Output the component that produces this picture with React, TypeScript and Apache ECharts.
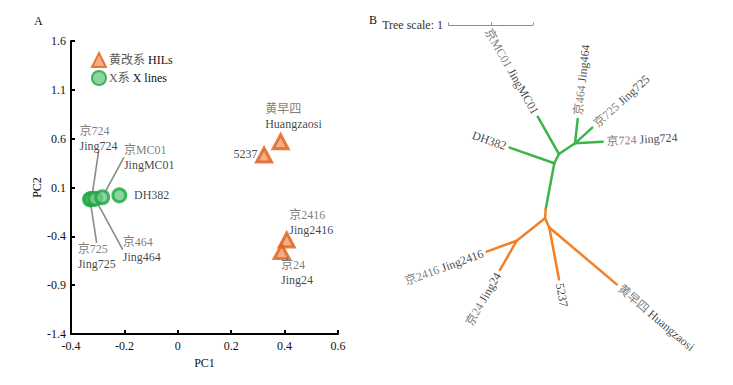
import React, { useEffect, useRef } from 'react';
import * as echarts from 'echarts';

// ---------- Panel A: PCA data ----------
const HIL_NAME = '黄改系 HILs';
const X_NAME = 'X系 X lines';
const HIL_CN = ['黄早四', '', '京2416', '京24'];
const HIL_EN = ['Huangzaosi', '5237', 'Jing2416', 'Jing24'];
const HIL_PC1 = [0.385, 0.323, 0.408, 0.389];
const HIL_PC2 = [0.569, 0.433, -0.438, -0.557];

const XL_CN = ['京725', '京724', '京464', '京MC01', ''];
const XL_EN = ['Jing725', 'Jing724', 'Jing464', 'JingMC01', 'DH382'];
const XL_PC1 = [-0.329, -0.323, -0.31, -0.283, -0.219];
const XL_PC2 = [-0.021, -0.018, -0.015, 0.0, 0.02];

const PC1_MIN = -0.4, PC1_MAX = 0.6, PC1_STEP = 0.2;
const PC2_MIN = -1.4, PC2_MAX = 1.6, PC2_STEP = 0.5;

// ---------- Panel B: tree data (units of tree scale) ----------
const TREE_IDS = ['A', 'C', 'D', 'M', 'B', 'E', 'F', 'DH382', 'MC01', '464', '725', '724', '2416', '24', '5237', 'HZS'];
const TREE_X = [0, 0.055, 0.244, -0.101, -0.109, -0.442, -0.059, -0.525, -0.195, 0.275, 0.447, 0.569, -0.795, -0.639, 0.055, 0.734];
const TREE_Y = [0, 0.109, 0.235, -0.538, -0.647, -0.911, -0.755, 0.184, 0.548, 0.521, 0.419, 0.254, -1.04, -1.255, -1.365, -1.424];
// [parent, child, clade] clade 0 = X lines (green), 1 = HILs (orange)
const TREE_EDGES: [string, string, number][] = [
  ['A', 'DH382', 0], ['A', 'C', 0], ['C', 'MC01', 0], ['C', 'D', 0],
  ['D', '464', 0], ['D', '725', 0], ['D', '724', 0], ['A', 'M', 0],
  ['M', 'B', 1], ['B', 'E', 1], ['E', '2416', 1], ['E', '24', 1],
  ['B', 'F', 1], ['F', '5237', 1], ['F', 'HZS', 1],
];
const LEAF_IDS = ['DH382', 'MC01', '464', '725', '724', '2416', '24', '5237', 'HZS'];
const LEAF_CN = ['', '京MC01', '京464', '京725', '京724', '京2416', '京24', '', '黄早四'];
const LEAF_EN = ['DH382', 'JingMC01', 'Jing464', 'Jing725', 'Jing724', 'Jing2416', 'Jing24', '5237', 'Huangzaosi'];
const SCALE_X0 = -1.247, SCALE_Y0 = 1.627, SCALE_LEN = 1;

// ---------- styles / layout ----------
const FONT = 'Liberation Serif, Noto Sans CJK SC, serif';
const GREEN = '#3AB54A';
const ORANGE = '#F47F24';
const HIL_LABEL_OFFSET = [[-15.4, -25], [-6.6, -0.7], [2.6, -18], [-0.7, 20.5]];
const HIL_LABEL_ALIGN = ['left', 'right', 'left', 'left'];
const XL_LABEL_OFFSET = [[-12.3, 57], [-12, -61], [27.7, 51], [21.7, -40], [14.7, 0]];

const rich = {
  c: { color: '#5a5a5a', fontFamily: FONT, fontSize: 12, lineHeight: 15 },
  e: { color: '#111', fontFamily: FONT, fontSize: 12, lineHeight: 15 },
};
const fmtTwo = (cn: string, en: string) => (cn ? `{c|${cn}}\n{e|${en}}` : `{e|${en}}`);
const fmtOne = (cn: string, en: string) => (cn ? `{c|${cn}} {e|${en}}` : `{e|${en}}`);
const round = (v: number) => String(Math.round(v * 10) / 10);

function buildOption() {
  const idx = (id: string) => TREE_IDS.indexOf(id);
  const pt = (id: string) => [TREE_X[idx(id)], TREE_Y[idx(id)]];

  const branchData = TREE_EDGES.map(([a, b, clade]) => ({
    coords: [pt(a), pt(b)],
    lineStyle: { color: clade === 0 ? GREEN : ORANGE },
  }));

  const parentOf = (id: string) => TREE_EDGES.find((e) => e[1] === id)![0];
  const leafData = LEAF_IDS.map((id, i) => {
    const [x, y] = pt(id);
    const [px, py] = pt(parentOf(id));
    const ang = (Math.atan2(y - py, x - px) * 180) / Math.PI;
    const right = Math.abs(ang) <= 90;
    const rot = right ? ang : ang > 0 ? ang - 180 : ang + 180;
    return {
      value: [x, y],
      label: {
        rotate: rot,
        align: right ? 'left' : 'right',
        padding: right ? [0, 0, 0, 4] : [0, 4, 0, 0],
        formatter: fmtOne(LEAF_CN[i], LEAF_EN[i]),
      },
    };
  });

  const tick = 0.03;
  const scaleData = [
    { coords: [[SCALE_X0, SCALE_Y0], [SCALE_X0 + SCALE_LEN, SCALE_Y0]] },
    { coords: [[SCALE_X0, SCALE_Y0], [SCALE_X0, SCALE_Y0 + tick]] },
    { coords: [[SCALE_X0 + SCALE_LEN / 2, SCALE_Y0], [SCALE_X0 + SCALE_LEN / 2, SCALE_Y0 + tick]] },
    { coords: [[SCALE_X0 + SCALE_LEN, SCALE_Y0], [SCALE_X0 + SCALE_LEN, SCALE_Y0 + tick]] },
  ];

  const axisCommon = {
    type: 'value',
    axisLine: { show: true, onZero: false, lineStyle: { color: '#000', width: 2 } },
    axisTick: { show: true, inside: true, length: 4, lineStyle: { color: '#000', width: 2 } },
    splitLine: { show: false },
    nameLocation: 'middle',
    nameTextStyle: { fontFamily: FONT, fontSize: 12, color: '#111' },
  };

  return {
    animation: false,
    backgroundColor: '#fff',
    textStyle: { fontFamily: FONT },
    legend: {
      orient: 'vertical',
      left: 86,
      top: 47,
      itemWidth: 14,
      itemHeight: 14,
      itemGap: 2,
      data: [HIL_NAME, X_NAME],
      formatter: (n: string) => {
        const [cn, ...rest] = n.split(' ');
        return `{c|${cn}} {e|${rest.join(' ')}}`;
      },
      textStyle: { rich, padding: [0, 0, 0, -2] },
    },
    grid: [
      { left: 71, top: 41, width: 267, height: 293 },
      { left: 358.8, top: 1.8, width: 374, height: 382.5 },
    ],
    xAxis: [
      {
        ...axisCommon,
        gridIndex: 0,
        min: PC1_MIN,
        max: PC1_MAX,
        interval: PC1_STEP,
        name: 'PC1',
        nameGap: 21,
        axisLabel: { color: '#111', fontFamily: FONT, fontSize: 12, margin: 6, formatter: round },
      },
      { type: 'value', gridIndex: 1, min: -2.3, max: 2.1, show: false },
    ],
    yAxis: [
      {
        ...axisCommon,
        gridIndex: 0,
        min: PC2_MIN,
        max: PC2_MAX,
        interval: PC2_STEP,
        name: 'PC2',
        nameGap: 28,
        axisLabel: { color: '#111', fontFamily: FONT, fontSize: 12, margin: 5, formatter: round },
      },
      { type: 'value', gridIndex: 1, min: -2.6, max: 1.9, show: false },
    ],
    series: [
      {
        name: HIL_NAME,
        type: 'scatter',
        xAxisIndex: 0,
        yAxisIndex: 0,
        symbol: 'triangle',
        symbolSize: [15, 14],
        itemStyle: { color: '#F09A66', borderColor: '#E0601A', borderWidth: 3 },
        data: HIL_PC1.map((x, i) => ({
          value: [x, HIL_PC2[i]],
          label: { align: HIL_LABEL_ALIGN[i] },
        })),
        label: {
          show: true,
          position: 'inside',
          align: 'left',
          verticalAlign: 'middle',
          rich,
          formatter: (p: any) => fmtTwo(HIL_CN[p.dataIndex], HIL_EN[p.dataIndex]),
        },
        labelLayout: (p: any) => ({ dx: HIL_LABEL_OFFSET[p.dataIndex][0], dy: HIL_LABEL_OFFSET[p.dataIndex][1] }),
        emphasis: { disabled: true },
      },
      {
        name: X_NAME,
        type: 'scatter',
        xAxisIndex: 0,
        yAxisIndex: 0,
        symbol: 'circle',
        symbolSize: 13,
        itemStyle: { color: '#6FC986', borderColor: '#1DA544', borderWidth: 3 },
        data: XL_PC1.map((x, i) => ({
          value: [x, XL_PC2[i]],
          labelLine: { show: XL_CN[i] !== '' },
        })),
        label: {
          show: true,
          position: 'inside',
          align: 'left',
          verticalAlign: 'middle',
          rich,
          formatter: (p: any) => fmtTwo(XL_CN[p.dataIndex], XL_EN[p.dataIndex]),
        },
        labelLine: { show: true, lineStyle: { color: '#8a8a8a', width: 1.6 } },
        labelLayout: (p: any) => ({ dx: XL_LABEL_OFFSET[p.dataIndex][0], dy: XL_LABEL_OFFSET[p.dataIndex][1] }),
        emphasis: { disabled: true },
      },
      {
        type: 'lines',
        coordinateSystem: 'cartesian2d',
        xAxisIndex: 1,
        yAxisIndex: 1,
        lineStyle: { width: 2.5, opacity: 1, cap: 'round' },
        data: branchData,
        silent: true,
      },
      {
        type: 'lines',
        coordinateSystem: 'cartesian2d',
        xAxisIndex: 1,
        yAxisIndex: 1,
        lineStyle: { width: 1, color: '#8c8c8c', opacity: 1 },
        data: scaleData,
        silent: true,
      },
      {
        type: 'scatter',
        xAxisIndex: 1,
        yAxisIndex: 1,
        symbolSize: 0,
        data: leafData,
        label: {
          show: true,
          position: 'inside',
          verticalAlign: 'middle',
          rich,
        },
        silent: true,
      },
    ],
    graphic: [
      { type: 'text', left: 34, top: 15, style: { text: 'A', font: `12px ${FONT}`, fill: '#111' } },
      { type: 'text', left: 369, top: 14, style: { text: 'B', font: `12px ${FONT}`, fill: '#111' } },
      {
        type: 'text',
        x: 443,
        y: 25,
        style: { text: 'Tree scale: 1', font: `12px ${FONT}`, fill: '#333', align: 'right', verticalAlign: 'middle' },
      },
    ],
  };
}

export default function App() {
  const ref = useRef<HTMLDivElement>(null);
  useEffect(() => {
    const chart = echarts.init(ref.current!, null, { renderer: 'svg' });
    chart.setOption(buildOption() as any);
    return () => chart.dispose();
  }, []);
  return <div ref={ref} style={{ position: 'fixed', left: 0, top: 0, width: 733, height: 385 }} />;
}
